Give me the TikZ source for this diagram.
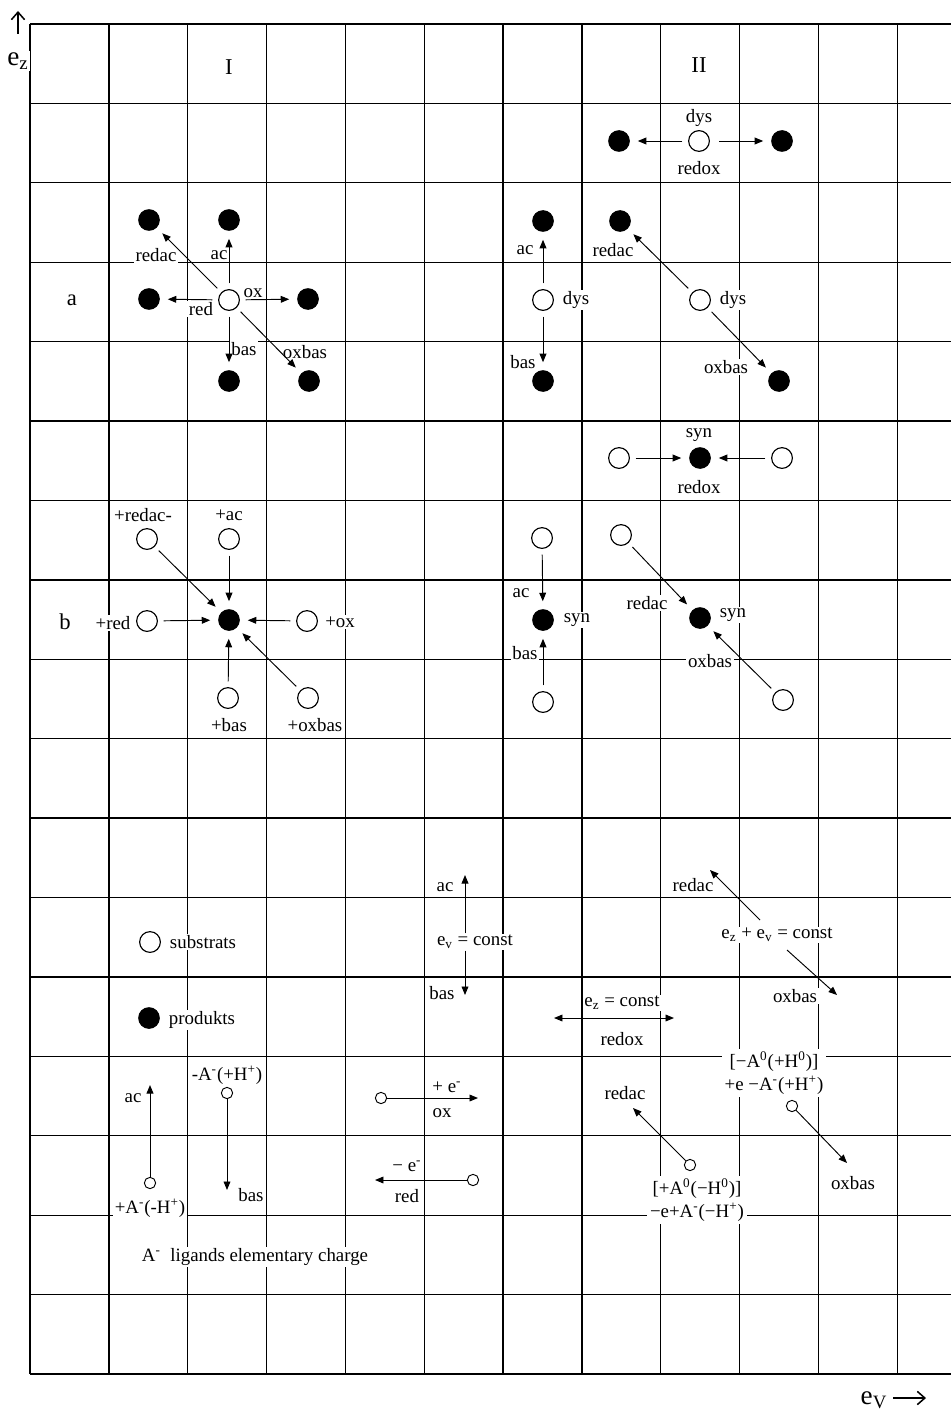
\documentclass[tikz,border=0pt]{standalone}
\usepackage{fontspec}
\setmainfont{Liberation Serif}
\usetikzlibrary{arrows.meta}

\begin{document}
\begin{tikzpicture}[
  x=0.53pt, y=-0.53pt,
  gridline/.style={line width=0.7pt},
  sub/.style={draw, circle, fill=white, minimum size=11pt, inner sep=0pt, line width=0.6pt},
  prod/.style={circle, fill=black, minimum size=11.5pt, inner sep=0pt},
  tiny/.style={draw, circle, fill=white, minimum size=6pt, inner sep=0pt, line width=0.5pt},
  arr/.style={-{Triangle[length=4.5pt,width=3.6pt]}, line width=0.5pt, shorten <=3pt, shorten >=4pt},
  keyarr/.style={-{Triangle[length=4.5pt,width=3.6pt]}, line width=0.5pt},
  axisarr/.style={-{Straight Barb[length=4pt,width=7pt]}, line width=0.8pt},
  lab/.style={fill=white, inner sep=0.8pt},
  font=\normalsize
]
\useasboundingbox (0,0) rectangle (951,1412);

% grid
\foreach \i in {0,...,11}
  \draw[gridline] ({30+78.85*\i},24) -- ({30+78.85*\i},1374);
\foreach \j in {0,...,17}
  \draw[gridline] (30,{24+79.41*\j}) -- (951,{24+79.41*\j});

% axes
\coordinate (ezFoot) at (18,34);
\coordinate (ezHead) at (18,11);
\draw[axisarr] (ezFoot) -- (ezHead);
\node[lab] (ezName) at (18,61) {\Large e\textsubscript{z}};
\node (evName) at (874,1400) {\Large e\textsubscript{V}};
\coordinate (evFoot) at (893,1398);
\coordinate (evHead) at (926,1398);
\draw[axisarr] (evFoot) -- (evHead);

\node[lab] (headI) at (229,67) {\large I};
\node[lab] (headII) at (699,65) {\large II};
\node[lab] (rowA) at (72,300) {\large a};
\node[lab] (rowB) at (65,622) {\large b};

% I a
\node[sub] (iaS) at (229,300) {};
\node[prod] (iaRedac) at (149,220) {};
\node[prod] (iaAc) at (229,220) {};
\node[prod] (iaRed) at (149,299) {};
\node[prod] (iaOx) at (308,299) {};
\node[prod] (iaBas) at (229,381) {};
\node[prod] (iaOxbas) at (309,381) {};
\node[lab] at (156,255) {redac};
\node[lab] at (219,255) {ac};
\node[lab] at (201,309) {red};
\node[lab] at (253,293) {ox};
\node[lab] at (244,349) {bas};
\node[lab] at (305,352) {oxbas};
\draw[arr] (iaS) -- (iaRedac);
\draw[arr] (iaS) -- (iaAc);
\draw[arr] (iaS) -- (iaRed);
\draw[arr] (iaS) -- (iaOx);
\draw[arr] (iaS) -- (iaBas);
\draw[arr] (iaS) -- (iaOxbas);

% II dys redox
\node[sub] (iiDys) at (699,141) {};
\node[prod] (iiDysL) at (619,141) {};
\node[prod] (iiDysR) at (782,141) {};
\node[lab] at (699,118) {dys};
\node[lab] at (699,168) {redox};
\draw[arr] (iiDys) -- (iiDysL);
\draw[arr, shorten <=5pt] (iiDys) -- (iiDysR);

% II a
\node[sub] (iiaS1) at (543,300) {};
\node[prod] (iiaAc) at (543,221) {};
\node[prod] (iiaBas) at (543,381) {};
\node[sub] (iiaS2) at (700,300) {};
\node[prod] (iiaRedac) at (620,221) {};
\node[prod] (iiaOxbas) at (779,381) {};
\node[lab] at (525,250) {ac};
\node[lab] at (523,362) {bas};
\node[lab] at (576,300) {dys};
\node[lab] at (613,250) {redac};
\node[lab] at (733,300) {dys};
\node[lab] at (726,367) {oxbas};
\draw[arr] (iiaS1) -- (iiaAc);
\draw[arr] (iiaS1) -- (iiaBas);
\draw[arr] (iiaS2) -- (iiaRedac);
\draw[arr] (iiaS2) -- (iiaOxbas);

% II syn redox
\node[sub] (iiSynL) at (619,458) {};
\node[prod] (iiSyn) at (700,458) {};
\node[sub] (iiSynR) at (782,458) {};
\node[lab] at (699,435) {syn};
\node[lab] at (699,487) {redox};
\draw[arr] (iiSynL) -- (iiSyn);
\draw[arr] (iiSynR) -- (iiSyn);

% I b
\node[prod] (ibP) at (229,620) {};
\node[sub] (ibRedac) at (147,539) {};
\node[sub] (ibAc) at (229,539) {};
\node[sub] (ibRed) at (147,621) {};
\node[sub] (ibOx) at (307,621) {};
\node[sub] (ibBas) at (228,698) {};
\node[sub] (ibOxbas) at (308,698) {};
\node[lab] at (143,515) {+redac-};
\node[lab] at (229,515) {+ac};
\node[lab] at (113,623) {+red};
\node[lab] at (340,622) {+ox};
\node[lab] at (229,725) {+bas};
\node[lab] at (315,725) {+oxbas};
\draw[arr] (ibRedac) -- (ibP);
\draw[arr] (ibAc) -- (ibP);
\draw[arr] (ibRed) -- (ibP);
\draw[arr] (ibOx) -- (ibP);
\draw[arr] (ibBas) -- (ibP);
\draw[arr] (ibOxbas) -- (ibP);

% II b
\node[sub] (iibAc) at (542,538) {};
\node[prod] (iibP1) at (543,620) {};
\node[sub] (iibBas) at (543,702) {};
\node[sub] (iibRedac) at (621,535) {};
\node[prod] (iibP2) at (700,618) {};
\node[sub] (iibOxbas) at (783,700) {};
\node[lab] at (521,593) {ac};
\node[lab] at (577,620) {syn};
\node[lab] at (525,653) {bas};
\node[lab] at (647,603) {redac};
\node[lab] at (733,615) {syn};
\node[lab] at (710,661) {oxbas};
\draw[arr] (iibAc) -- (iibP1);
\draw[arr] (iibBas) -- (iibP1);
\draw[arr] (iibRedac) -- (iibP2);
\draw[arr] (iibOxbas) -- (iibP2);

% legend
\node[sub] (keySub) at (150,942) {};
\node[prod] (keyProd) at (149,1018) {};
\node[lab] at (203,942) {substrats};
\node[lab] at (202,1020) {produkts};

% const directions
\node[lab] (evConst) at (475,942) {e\textsubscript{v} = const};
\coordinate (evTop) at (465,875);
\coordinate (evBot) at (465,995);
\node[lab] at (445,887) {ac};
\node[lab] at (442,993) {bas};
\draw[keyarr] (evConst.north -| evTop) -- (evTop);
\draw[keyarr] (evConst.south -| evBot) -- (evBot);

\node[lab] (ezConst) at (622,1003) {e\textsubscript{z} = const};
\node[lab] at (622,1039) {redox};
\coordinate (ezL) at (554,1018);
\coordinate (ezR) at (674,1018);
\draw[{Triangle[length=4.5pt,width=3.6pt]}-{Triangle[length=4.5pt,width=3.6pt]}, line width=0.5pt] (ezL) -- (ezR);

\node[lab] (sumConst) at (777,935) {e\textsubscript{z} + e\textsubscript{v} = const};
\node[lab] at (693,885) {redac};
\node[lab] at (795,996) {oxbas};
\coordinate (sumA1) at (760,920);
\coordinate (sumT1) at (710,870);
\coordinate (sumA2) at (787,950);
\coordinate (sumT2) at (837,995);
\draw[keyarr] (sumA1) -- (sumT1);
\draw[keyarr] (sumA2) -- (sumT2);

% ligand / electron moves
\node[tiny] (keyAcS) at (150,1183) {};
\coordinate (keyAcT) at (150,1085);
\node[lab] at (133,1098) {ac};
\node[lab] at (150,1208) {+A\textsuperscript{-}(-H\textsuperscript{+})};
\draw[keyarr] (keyAcS) -- (keyAcT);

\node[tiny] (keyBasS) at (227,1093) {};
\coordinate (keyBasT) at (227,1190);
\node[lab] at (227,1075) {-A\textsuperscript{-}(+H\textsuperscript{+})};
\node[lab] at (251,1195) {bas};
\draw[keyarr] (keyBasS) -- (keyBasT);

\node[lab] at (255,1257) {A\textsuperscript{-}\ \ ligands elementary charge};

\node[tiny] (keyOxS) at (381,1098) {};
\coordinate (keyOxT) at (478,1098);
\node[lab] at (447,1087) {+ e\textsuperscript{-}};
\node[lab] at (442,1113) {ox};
\draw[keyarr] (keyOxS) -- (keyOxT);

\node[tiny] (keyRedS) at (473,1180) {};
\coordinate (keyRedT) at (375,1180);
\node[lab] at (407,1166) {− e\textsuperscript{-}};
\node[lab] at (407,1196) {red};
\draw[keyarr] (keyRedS) -- (keyRedT);

\node[tiny] (keyRedacS) at (690,1165) {};
\coordinate (keyRedacT) at (633,1108);
\node[lab] at (625,1093) {redac};
\node[lab, align=center, inner sep=1.5pt] at (697,1200) {[+A\textsuperscript{0}(−H\textsuperscript{0})]\\−e+A\textsuperscript{-}(−H\textsuperscript{+})};
\draw[keyarr] (keyRedacS) -- (keyRedacT);

\node[tiny] (keyOxbasS) at (792,1106) {};
\coordinate (keyOxbasT) at (847,1163);
\node[lab, align=center, inner sep=1.5pt] at (774,1073) {[−A\textsuperscript{0}(+H\textsuperscript{0})]\\+e −A\textsuperscript{-}(+H\textsuperscript{+})};
\node[lab] at (853,1183) {oxbas};
\draw[keyarr] (keyOxbasS) -- (keyOxbasT);
\end{tikzpicture}
\end{document}
